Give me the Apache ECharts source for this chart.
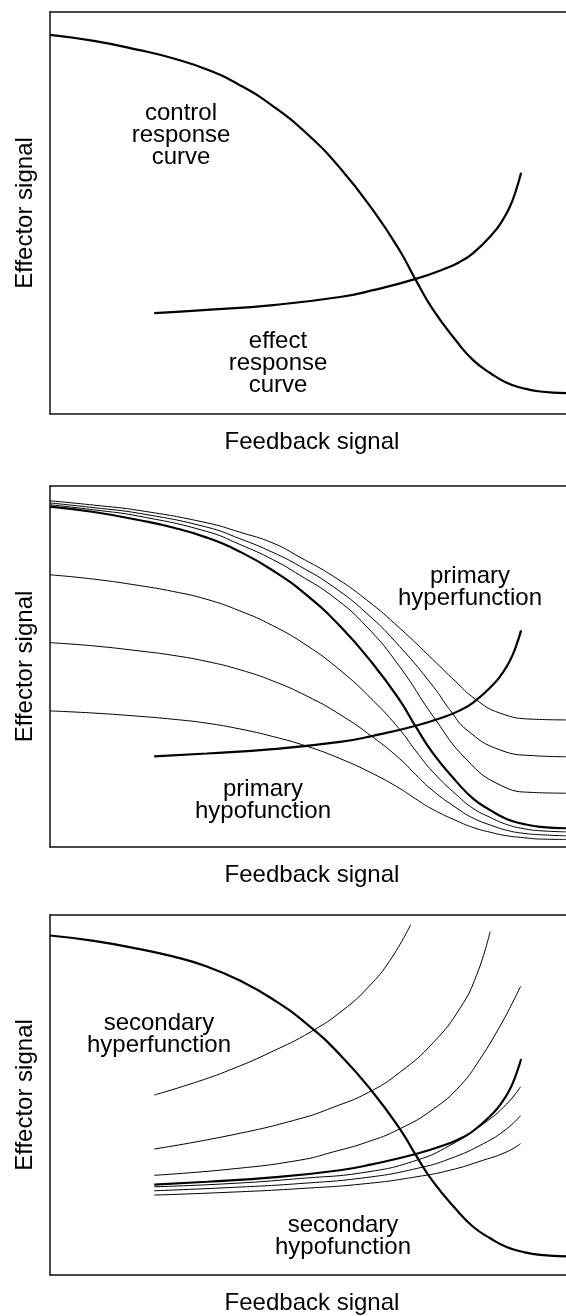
<!DOCTYPE html>
<html>
<head>
<meta charset="utf-8">
<script src="https://cdn.jsdelivr.net/npm/echarts@6/dist/echarts.min.js"></script>
<style>
html,body{margin:0;padding:0;background:#fff;}
#chart{width:566px;height:1316px;}
</style>
</head>
<body>
<div id="chart"></div>
<script>
// ---- axis titles ----
const xAxisName = 'Feedback signal';
const yAxisName = 'Effector signal';

// ---- panel 1 & shared curves (x: feedback 0-100, y: effector 0-100) ----
const controlCurve = [[0,94.3],[8.5,92.8],[17.4,90.5],[23.8,88.5],[30.4,85.7],[36.8,81.8],[43.2,76.6],[49.8,69.7],[56.2,61.2],[62.6,50.7],[67.8,40.6],[70.9,33.3],[74.2,26.0],[78.9,17.9],[82.0,13.4],[85.3,10.2],[88.6,7.7],[91.7,6.4],[95.0,5.6],[100,5.2]];
const effectCurve = [[20.2,25.1],[30.4,25.9],[43.2,27.1],[56.2,29.1],[62.6,30.8],[70.9,33.6],[76.9,36.3],[79.5,37.9],[82.0,40.0],[85.9,45.0],[87.6,48.0],[89.1,51.5],[90.3,55.6],[91.3,60.0]];

// ---- panel 2: primary hyperfunction ----
const primaryHyper1 = [[0,94.8],[8.5,93.4],[17.4,91.6],[30.4,87.4],[36.8,83.8],[43.2,79.6],[48.4,75.3],[54.9,69.3],[61.4,61.0],[67.8,49.9],[74.3,36.1],[80.8,24.1],[87.2,17.2],[93.7,15.1],[100,14.9]];
const primaryHyper2 = [[0,95.3],[8.5,94.0],[17.4,92.4],[30.4,88.6],[36.8,85.4],[43.2,81.6],[48.4,77.8],[54.9,72.1],[61.4,64.7],[67.8,55.5],[74.3,44.4],[77.5,38.0],[80.8,32.4],[87.2,26.9],[93.7,25.3],[100,25.0]];
const primaryHyper3 = [[0,95.9],[8.5,94.7],[17.4,93.2],[30.4,89.8],[36.8,87.2],[43.2,84.2],[48.4,80.3],[54.9,75.0],[61.4,68.4],[67.8,60.6],[74.3,51.8],[78.5,46.0],[82.4,41.0],[87.2,37.1],[93.7,35.4],[100,35.2]];
// ---- panel 2: primary hypofunction ----
const primaryHypo1 = [[0,75.4],[8.5,74.2],[17.4,72.4],[23.8,70.8],[30.4,68.6],[36.8,65.4],[43.2,61.3],[49.8,55.8],[56.2,49.0],[62.6,40.6],[67.8,32.5],[70.9,26.6],[74.2,20.8],[78.9,14.3],[82.0,10.7],[85.3,8.2],[88.6,6.2],[91.7,5.1],[95.0,4.5],[100,4.2]];
const primaryHypo2 = [[0,56.6],[8.5,55.7],[17.4,54.3],[23.8,53.1],[30.4,51.4],[36.8,49.1],[43.2,46.0],[49.8,41.8],[56.2,36.7],[62.6,30.4],[67.8,24.4],[70.9,20.0],[74.2,15.6],[78.9,10.7],[82.0,8.0],[85.3,6.1],[88.6,4.6],[91.7,3.8],[95.0,3.4],[100,3.1]];
const primaryHypo3 = [[0,37.7],[8.5,37.1],[17.4,36.2],[23.8,35.4],[30.4,34.3],[36.8,32.7],[43.2,30.6],[49.8,27.9],[56.2,24.5],[62.6,20.3],[67.8,16.2],[70.9,13.3],[74.2,10.4],[78.9,7.2],[82.0,5.4],[85.3,4.1],[88.6,3.1],[91.7,2.6],[95.0,2.2],[100,2.1]];

// ---- panel 3: secondary hyperfunction / hypofunction ----
const secondaryHyper1 = [[20.2,27.7],[34.9,29.4],[48.4,31.9],[54.9,34.2],[61.4,36.9],[67.8,40.6],[74.3,46.1],[79.5,52.6],[83.3,59.9],[87.2,69.1],[89.8,76.1],[91.2,80.2]];
const secondaryHyper2 = [[20.2,35.0],[34.9,38.8],[48.4,43.4],[54.9,46.6],[61.7,50.7],[67.8,56.3],[74.3,64.6],[79.5,74.2],[82.7,83.4],[85.3,95.4]];
const secondaryHyper3 = [[20.2,50.0],[28.8,53.8],[35.8,57.5],[42.8,61.9],[50.6,67.6],[56.8,73.6],[61.7,80.0],[65.9,87.4],[69.9,97.3]];
const secondaryHypo1 = [[20.2,24.5],[34.9,25.4],[48.4,26.8],[61.4,28.6],[71.1,31.9],[77.5,36.0],[84.0,42.0],[88.5,47.5],[91.2,52.3]];
const secondaryHypo2 = [[20.2,23.4],[34.9,24.3],[48.4,25.4],[61.4,27.1],[71.1,29.6],[77.5,32.3],[84.0,36.5],[88.5,40.6],[91.2,44.3]];
const secondaryHypo3 = [[20.2,22.2],[34.9,23.0],[48.4,24.0],[61.4,25.4],[71.1,27.3],[77.5,29.1],[84.0,31.9],[88.5,34.2],[91.2,36.5]];

// ---- annotation texts ----
const panelLabels = [
  ['control\nresponse\ncurve', 'effect\nresponse\ncurve'],
  ['primary\nhyperfunction', 'primary\nhypofunction'],
  ['secondary\nhyperfunction', 'secondary\nhypofunction']
];

const FONT = '"Liberation Sans", Arial, Helvetica, sans-serif';
const grids = [
  {left: 50, top: 12, right: 0, height: 402},
  {left: 50, top: 486, right: 0, height: 361},
  {left: 50, top: 915, right: 0, height: 362}
];
const labelPos = [
  [[181, 135], [278, 363]],
  [[470, 587], [263, 800]],
  [[159, 1034], [343, 1236]]
];

const axisLineStyle = {show: true, onZero: false, lineStyle: {color: '#111', width: 1.5}};
const xAxes = [], yAxes = [];
grids.forEach((g, i) => {
  xAxes.push({gridIndex: i, type: 'value', min: 0, max: 100, position: 'bottom',
    axisLine: axisLineStyle, axisTick: {show: false}, axisLabel: {show: false}, splitLine: {show: false},
    name: xAxisName, nameLocation: 'middle', nameGap: 16,
    nameTextStyle: {fontSize: 24, color: '#000', fontFamily: FONT, padding: [0, 0, 0, 8]}});
  xAxes.push({gridIndex: i, type: 'value', min: 0, max: 100, position: 'top',
    axisLine: axisLineStyle, axisTick: {show: false}, axisLabel: {show: false}, splitLine: {show: false}});
  yAxes.push({gridIndex: i, type: 'value', min: 0, max: 100,
    axisLine: axisLineStyle, axisTick: {show: false}, axisLabel: {show: false}, splitLine: {show: false},
    name: yAxisName, nameLocation: 'middle', nameGap: 13, nameRotate: 90,
    nameTextStyle: {fontSize: 24, color: '#000', fontFamily: FONT}});
});

function curve(data, panel, width) {
  return {type: 'line', data: data, xAxisIndex: panel * 2, yAxisIndex: panel,
    showSymbol: false, symbol: 'none', smooth: 0.5, silent: true,
    lineStyle: {color: '#000', width: width}, z: width > 1.5 ? 3 : 2};
}

const THICK = 2.2, THIN = 1;
const series = [
  curve(controlCurve, 0, THICK), curve(effectCurve, 0, THICK),
  curve(primaryHyper1, 1, THIN), curve(primaryHyper2, 1, THIN), curve(primaryHyper3, 1, THIN),
  curve(primaryHypo1, 1, THIN), curve(primaryHypo2, 1, THIN), curve(primaryHypo3, 1, THIN),
  curve(controlCurve, 1, THICK), curve(effectCurve, 1, THICK),
  curve(secondaryHyper1, 2, THIN), curve(secondaryHyper2, 2, THIN), curve(secondaryHyper3, 2, THIN),
  curve(secondaryHypo1, 2, THIN), curve(secondaryHypo2, 2, THIN), curve(secondaryHypo3, 2, THIN),
  curve(controlCurve, 2, THICK), curve(effectCurve, 2, THICK)
];

const graphics = [];
panelLabels.forEach((pair, i) => {
  pair.forEach((txt, j) => {
    graphics.push({type: 'text', x: labelPos[i][j][0], y: labelPos[i][j][1], silent: true,
      style: {text: txt, font: '24px ' + FONT, fill: '#000', align: 'center', verticalAlign: 'middle', lineHeight: 22}});
  });
});

const chart = echarts.init(document.getElementById('chart'), null, {renderer: 'canvas'});
chart.setOption({
  animation: false,
  backgroundColor: '#fff',
  grid: grids,
  xAxis: xAxes,
  yAxis: yAxes,
  series: series,
  graphic: graphics
});
</script>
</body>
</html>
